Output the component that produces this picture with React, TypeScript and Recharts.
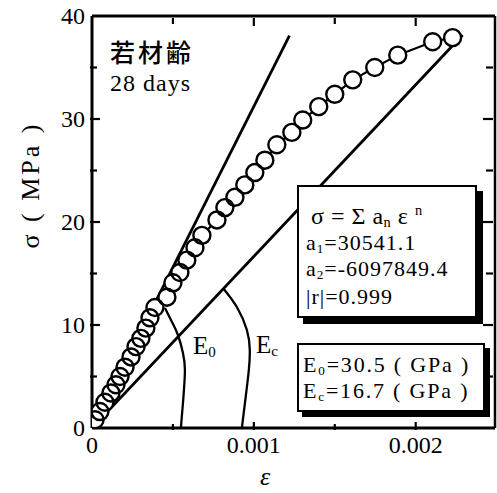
import React from "react";
import { LineChart, Line, XAxis, YAxis, ReferenceLine } from "recharts";

// measured stress-strain points (28 days)
const STRAIN = [
  0.000019, 0.000049, 0.00008, 0.000117, 0.000148, 0.000173, 0.000204, 0.000241, 0.000272, 0.000302,
  0.000333, 0.000358, 0.000389, 0.000463, 0.0005, 0.000543, 0.000586, 0.000636, 0.000679, 0.000772,
  0.000821, 0.000883, 0.000944, 0.001006, 0.001068, 0.001142, 0.001235, 0.001302, 0.001401, 0.0015,
  0.001611, 0.001747, 0.001889, 0.002105, 0.002228,
];
const STRESS = [
  0.8, 1.6, 2.5, 3.4, 4.2, 5.0, 5.9, 6.9, 7.9, 8.7,
  9.7, 10.7, 11.7, 12.7, 14.1, 15.1, 16.3, 17.5, 18.7, 20.2,
  21.4, 22.4, 23.6, 24.8, 26.0, 27.5, 28.7, 29.9, 31.2, 32.4,
  33.8, 35.0, 36.2, 37.5, 37.9,
];

// initial tangent modulus E0 and chord modulus Ec
const E0_STRAIN = [0, 0.00122];
const E0_STRESS = [0, 38.1];
const EC_STRAIN = [0, 0.00229];
const EC_STRESS = [0, 38.15];

// angle arcs
const E0_ARC_STRAIN = [0.000451, 0.000494, 0.000531, 0.000562, 0.000574, 0.000568, 0.000562, 0.000549];
const E0_ARC_STRESS = [11.65, 10.3, 9.03, 7.28, 5.63, 3.69, 2.43, 0];
const EC_ARC_STRAIN = [0.000809, 0.000895, 0.000957, 0.000975, 0.000969, 0.000951, 0.000926];
const EC_ARC_STRESS = [13.6, 11.75, 9.51, 7.57, 5.63, 3.2, 0];

const X_TICKS = [0, 0.0005, 0.001, 0.0015, 0.002];
const X_TICK_LABELS = ["0", "", "0.001", "", "0.002"];
const Y_TICKS = [0, 5, 10, 15, 20, 25, 30, 35, 40];
const Y_TICK_LABELS = ["0", "", "10", "", "20", "", "30", "", "40"];

const X_MAX = 0.00249;
const Y_MAX = 40;

const W = 497;
const H = 493;
const MARGIN = { top: 16, right: 2, left: 32, bottom: 35 };
const Y_AXIS_W = 60;
const X_AXIS_H = 30;
const PLOT_W = W - MARGIN.left - MARGIN.right - Y_AXIS_W;
const PLOT_H = H - MARGIN.top - MARGIN.bottom - X_AXIS_H;

const SERIF = '"Liberation Serif", "Times New Roman", serif';

const zip = (xs: number[], ys: number[]) => xs.map((x, i) => ({ x, y: ys[i] }));

function XTick(props: any) {
  const { x, y, payload } = props;
  const i = X_TICKS.findIndex((t) => Math.abs(t - payload.value) < 1e-9);
  const label = X_TICK_LABELS[i] || "";
  const len = label ? 8 : 6;
  const edge = i === 0;
  return (
    <g>
      {!edge && <line x1={x} x2={x} y1={y} y2={y - len} stroke="#000" strokeWidth={2.2} />}
      {!edge && <line x1={x} x2={x} y1={y - PLOT_H} y2={y - PLOT_H + len} stroke="#000" strokeWidth={2.2} />}
      {label && (
        <text x={x} y={y + 23} textAnchor="middle" fontFamily={SERIF} fontSize={24} fill="#000">
          {label}
        </text>
      )}
    </g>
  );
}

function YTick(props: any) {
  const { x, y, payload } = props;
  const i = Y_TICKS.findIndex((t) => Math.abs(t - payload.value) < 1e-9);
  const label = Y_TICK_LABELS[i] || "";
  const len = label ? 10 : 7;
  const edge = i === 0 || i === Y_TICKS.length - 1;
  return (
    <g>
      {!edge && <line x1={x} x2={x + len} y1={y} y2={y} stroke="#000" strokeWidth={2.2} />}
      {!edge && <line x1={x + PLOT_W} x2={x + PLOT_W - len} y1={y} y2={y} stroke="#000" strokeWidth={2.2} />}
      {label && (
        <text x={x - 5} y={y + 8} textAnchor="end" fontFamily={SERIF} fontSize={24} fill="#000">
          {label}
        </text>
      )}
    </g>
  );
}

const abs = (style: React.CSSProperties): React.CSSProperties => ({ position: "absolute", whiteSpace: "nowrap", lineHeight: 1.107, ...style });
const sub: React.CSSProperties = { fontSize: "0.6em", verticalAlign: "-0.2em", lineHeight: 0 };
const sup: React.CSSProperties = { fontSize: "0.6em", verticalAlign: "0.6em", lineHeight: 0 };

export default function App() {
  const points = zip(STRAIN, STRESS);
  return (
    <div style={{ position: "absolute", left: 0, top: 0, width: W, height: H, background: "#fff", fontFamily: SERIF, color: "#000" }}>
      <LineChart width={W} height={H} margin={MARGIN}>
        <XAxis
          type="number"
          dataKey="x"
          domain={[0, X_MAX]}
          ticks={X_TICKS}
          interval={0}
          allowDataOverflow
          height={X_AXIS_H}
          tickSize={0}
          tickLine={false}
          tick={XTick}
          axisLine={{ stroke: "#000", strokeWidth: 3 }}
        />
        <YAxis
          type="number"
          dataKey="y"
          domain={[0, Y_MAX]}
          ticks={Y_TICKS}
          interval={0}
          allowDataOverflow
          width={Y_AXIS_W}
          tickSize={0}
          tickLine={false}
          tick={YTick}
          axisLine={{ stroke: "#000", strokeWidth: 3 }}
        />
        <ReferenceLine y={Y_MAX} stroke="#000" strokeWidth={3} />
        <ReferenceLine x={X_MAX} stroke="#000" strokeWidth={2.5} />
        <Line data={points} dataKey="y" stroke="#000" strokeWidth={2.2} dot={{ r: 8.5, fill: "#fff", stroke: "none" }} isAnimationActive={false} />
        <Line data={points} dataKey="y" stroke="none" dot={{ r: 8.5, fill: "none", stroke: "#000", strokeWidth: 2.4 }} isAnimationActive={false} />
        <Line data={zip(E0_STRAIN, E0_STRESS)} dataKey="y" stroke="#000" strokeWidth={2.8} dot={false} isAnimationActive={false} />
        <Line data={zip(EC_STRAIN, EC_STRESS)} dataKey="y" stroke="#000" strokeWidth={2.8} dot={false} isAnimationActive={false} />
        <Line data={zip(E0_ARC_STRAIN, E0_ARC_STRESS)} dataKey="y" type="natural" stroke="#000" strokeWidth={2.3} dot={false} isAnimationActive={false} />
        <Line data={zip(EC_ARC_STRAIN, EC_ARC_STRESS)} dataKey="y" type="natural" stroke="#000" strokeWidth={2.3} dot={false} isAnimationActive={false} />
      </LineChart>

      {/* axis titles */}
      <div style={abs({ left: 31, top: 185, fontSize: 26, letterSpacing: 3, transform: "translate(-50%, -50%) rotate(-90deg)" })}>
        σ ( MPa )
      </div>
      <div style={abs({ left: 260, top: 463, fontSize: 26, fontStyle: "italic" })}>ε</div>

      {/* age label */}
      <div style={abs({ left: 110, top: 33, fontSize: 25, letterSpacing: 3, lineHeight: "normal", fontFamily: '"Noto Sans CJK JP", sans-serif', fontWeight: 500 })}>
        若材齢
      </div>
      <div style={abs({ left: 110, top: 70, fontSize: 24, letterSpacing: 1 })}>28 days</div>

      {/* modulus labels */}
      <div style={abs({ left: 193, top: 332, fontSize: 25 })}>
        E<span style={sub}>0</span>
      </div>
      <div style={abs({ left: 256, top: 331, fontSize: 25 })}>
        E<span style={sub}>c</span>
      </div>

      {/* fit box */}
      <div style={abs({ left: 297, top: 185, width: 176, height: 129, border: "2px solid #000", background: "#fff", boxShadow: "6px 6px 0 #000" })} />
      <div style={abs({ left: 311, top: 203, fontSize: 24, letterSpacing: 0.5 })}>
        σ = Σ a<span style={sub}>n</span> ε <span style={sup}>n</span>
      </div>
      <div style={abs({ left: 306, top: 231, fontSize: 22, letterSpacing: 1 })}>
        a<span style={sub}>1</span>=30541.1
      </div>
      <div style={abs({ left: 306, top: 257, fontSize: 22, letterSpacing: 1 })}>
        a<span style={sub}>2</span>=-6097849.4
      </div>
      <div style={abs({ left: 306, top: 285, fontSize: 22, letterSpacing: 1 })}>|r|=0.999</div>

      {/* modulus box */}
      <div style={abs({ left: 297, top: 343, width: 184, height: 65, border: "2px solid #000", background: "#fff", boxShadow: "5px 5px 0 #000" })} />
      <div style={abs({ left: 303, top: 353, fontSize: 22, letterSpacing: 1.8 })}>
        E<span style={sub}>0</span>=30.5 ( GPa )
      </div>
      <div style={abs({ left: 303, top: 379, fontSize: 22, letterSpacing: 1.8 })}>
        E<span style={sub}>c</span>=16.7 ( GPa )
      </div>
    </div>
  );
}
